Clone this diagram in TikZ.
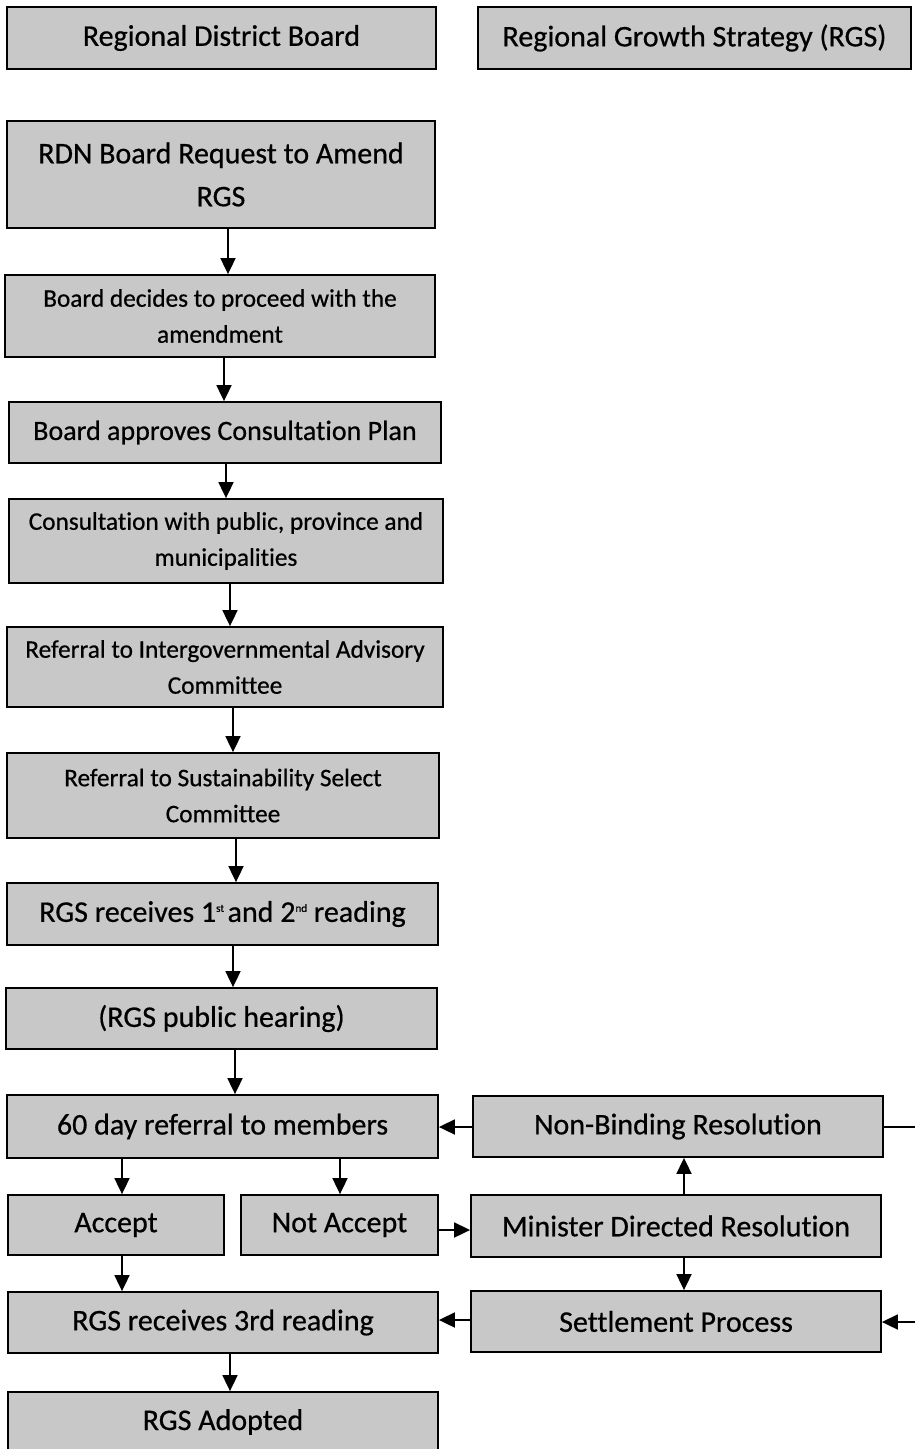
\documentclass[tikz,border=0pt]{standalone}
\usepackage{fontspec}
\setmainfont{Carlito}[Ligatures={NoCommon}, FakeBold=0.6]
\usetikzlibrary{arrows.meta}
\definecolor{boxgray}{RGB}{200,200,200}
\newcommand{\tinysup}[1]{\raisebox{10pt}{\fontsize{11}{11}\selectfont #1}}
\begin{document}
\begin{tikzpicture}[x=1pt,y=-1pt,
  flowbox/.style={draw=black, line width=1.8pt, fill=boxgray, inner sep=0pt, align=center,
    font=\fontsize{30}{43}\selectfont},
  smalltext/.style={font=\fontsize{25.3}{36}\selectfont},
  midtext/.style={font=\fontsize{28}{40}\selectfont},
  arr/.style={-{Triangle[length=16pt,width=15pt]}, line width=1.8pt},
  plainline/.style={line width=1.8pt}]
\fill[white] (0,0) rectangle (915,1449);
\useasboundingbox (0,0) rectangle (915,1449);

% top legend boxes
\node[flowbox, minimum width=429pt, minimum height=62pt] (A) at (221.5,38) {Regional District Board};
\node[flowbox, minimum width=433pt, minimum height=62pt] (B) at (694.5,38) {Regional Growth Strategy (RGS)};

% main column
\node[flowbox, minimum width=428pt, minimum height=107pt] (rdn) at (221,174.5) {RDN Board Request to Amend\\RGS};
\node[flowbox, smalltext, minimum width=430pt, minimum height=82pt] (bd) at (220,316) {Board decides to proceed with the\\amendment};
\node[flowbox, midtext, minimum width=432pt, minimum height=61pt] (cp) at (225,432.5) {Board approves Consultation Plan};
\node[flowbox, smalltext, minimum width=434pt, minimum height=84pt] (cons) at (226,541) {Consultation with public, province and\\municipalities};
\node[flowbox, smalltext, minimum width=436pt, minimum height=80pt] (igac) at (225,667) {Referral to Intergovernmental Advisory\\Committee};
\node[flowbox, smalltext, minimum width=432pt, minimum height=85pt] (sust) at (223,795.5) {Referral to Sustainability Select\\Committee};
\node[flowbox, minimum width=431pt, minimum height=62pt] (r12) at (222.5,914) {RGS receives 1\tinysup{st}\hspace{0.12em}and 2\tinysup{nd} reading};
\node[flowbox, minimum width=431pt, minimum height=61pt] (hear) at (221.5,1018.5) {(RGS public hearing)};
\node[flowbox, minimum width=431pt, minimum height=63pt] (sixty) at (222.5,1126.5) {60 day referral to members};
\node[flowbox, minimum width=216pt, minimum height=60pt] (acc) at (116,1225) {Accept};
\node[flowbox, minimum width=197pt, minimum height=60pt] (nacc) at (339.5,1225) {Not Accept};
\node[flowbox, minimum width=430pt, minimum height=61pt] (r3) at (223,1322.5) {RGS receives 3rd reading};
\node[flowbox, minimum width=430pt, minimum height=60pt] (adopt) at (223,1422) {RGS Adopted};

% right column
\node[flowbox, minimum width=410pt, minimum height=61pt] (nb) at (678,1126.5) {Non-Binding Resolution};
\node[flowbox, minimum width=410pt, minimum height=62pt] (mdr) at (676,1226) {Minister Directed Resolution};
\node[flowbox, minimum width=410pt, minimum height=61pt] (settle) at (676,1321.5) {Settlement Process};

\coordinate (edgeA) at (920,1127);
\coordinate (edgeB) at (920,1322);

% vertical connectors
\draw[arr] (rdn.south -| 228,0) -- (bd.north -| 228,0);
\draw[arr] (bd.south -| 224,0) -- (cp.north -| 224,0);
\draw[arr] (cp.south -| 226,0) -- (cons.north -| 226,0);
\draw[arr] (cons.south -| 230,0) -- (igac.north -| 230,0);
\draw[arr] (igac.south -| 233,0) -- (sust.north -| 233,0);
\draw[arr] (sust.south -| 236,0) -- (r12.north -| 236,0);
\draw[arr] (r12.south -| 233,0) -- (hear.north -| 233,0);
\draw[arr] (hear.south -| 235,0) -- (sixty.north -| 235,0);
\draw[arr] (sixty.south -| 122,0) -- (acc.north -| 122,0);
\draw[arr] (sixty.south -| 340,0) -- (nacc.north -| 340,0);
\draw[arr] (acc.south -| 122,0) -- (r3.north -| 122,0);
\draw[arr] (r3.south -| 230,0) -- (adopt.north -| 230,0);
\draw[arr] (mdr.north -| 684,0) -- (nb.south -| 684,0);
\draw[arr] (mdr.south -| 684,0) -- (settle.north -| 684,0);

% horizontal connectors
\draw[arr] (nb.west |- 0,1127) -- (sixty.east |- 0,1127);
\draw[arr] (nacc.east |- 0,1230) -- (mdr.west |- 0,1230);
\draw[arr] (settle.west |- 0,1320) -- (r3.east |- 0,1320);
\draw[plainline] (nb.east |- 0,1127) -- (edgeA);
\draw[arr] (edgeB) -- (settle.east |- 0,1322);
\end{tikzpicture}
\end{document}
